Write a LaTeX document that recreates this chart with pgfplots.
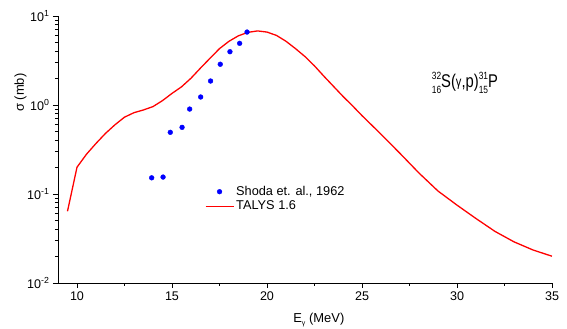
\documentclass[border=0pt]{standalone}
\usepackage{pgfplots}
\pgfplotsset{compat=1.18}
\usepackage{fontspec}
\setmainfont{Liberation Sans}
\usepackage{graphicx}
\definecolor{myblue}{RGB}{0,0,255}
\definecolor{myred}{RGB}{255,0,0}
\newcommand{\iso}[2]{\makebox[0pt][l]{\raisebox{8.3bp}{\fontsize{10.5}{11}\selectfont #1}}\raisebox{-6bp}{\fontsize{10.5}{11}\selectfont #2}}
\begin{document}
\begin{tikzpicture}
\begin{axis}[
  name=ax,
  scale only axis,
  width=494bp, height=267bp,
  xmin=9, xmax=35,
  ymode=log, ymin=0.01, ymax=10,
  axis lines=left,
  axis line style={-, line width=0.8pt},
  tick align=outside,
  major tick length=5bp, minor tick length=3bp,
  every tick/.style={black, line width=0.7pt},
  xtick={10,15,20,25,30,35},
  minor x tick num=1,
  ytick={0.01,0.1,1,10},
  yticklabels={10\textsuperscript{-2},10\textsuperscript{-1},10\textsuperscript{0},10\textsuperscript{1}},
  /pgf/number format/assume math mode=true,
  tick label style={font=\fontsize{12.6}{14}\selectfont},
  xlabel={E\raisebox{-3.5bp}{\fontsize{7}{8}\selectfont γ} (MeV)},
  ylabel={σ (mb)},
  label style={font=\fontsize{13}{14}\selectfont},
  xlabel style={at={(rel axis cs:0.528,0)}, anchor=base, yshift=-39bp},
  ylabel style={at={(rel axis cs:0,0.713)}, anchor=base, yshift=34bp},
  legend style={draw=none, fill=none, font=\fontsize{12.8}{14}\selectfont,
    at={(rel axis cs:0.295,0.315)}, anchor=west, row sep=0pt, inner sep=1pt},
  legend cell align=left,
  legend image code/.code={\draw[mark repeat=2,mark phase=2,#1] plot coordinates {(0bp,0bp) (14bp,0bp) (28bp,0bp)};},
  clip=false,
]
\addplot[only marks, mark=*, mark size=2.4bp, color=myblue] coordinates {
(13.93,0.152) (14.53,0.155) (14.91,0.493) (15.53,0.561) (15.93,0.90)
(16.51,1.23) (17.03,1.86) (17.54,2.87) (18.05,3.97) (18.56,4.93) (18.95,6.6)
};
\addlegendentry{Shoda et. al., 1962}
\addplot[color=myred, line width=1.3pt, no marks] coordinates {
(9.5,0.064) (10.0,0.20) (10.5,0.28) (11.0,0.37) (11.5,0.48) (12.0,0.60)
(12.5,0.73) (13.0,0.82) (13.5,0.88) (14.0,0.96) (14.5,1.12) (15.0,1.35)
(15.5,1.60) (16.0,2.0) (16.5,2.6) (17.0,3.35) (17.5,4.3) (18.0,5.2)
(18.5,6.0) (19.0,6.55) (19.5,6.8) (20.0,6.6) (20.5,6.05) (21.0,5.2)
(21.5,4.3) (22.0,3.5) (22.5,2.75) (23.0,2.1) (23.5,1.62) (24.0,1.25)
(24.5,0.98) (25.0,0.76) (26.0,0.47) (27.0,0.286) (28.0,0.172) (29.0,0.108)
(30.0,0.075) (31.0,0.053) (32.0,0.038) (33.0,0.029) (34.0,0.0235) (35.0,0.020)
};
\addlegendentry{TALYS 1.6}
\node[anchor=base west, inner sep=0pt, font=\fontsize{18.5}{20}\selectfont] at (axis cs:28.67,1.58)
  {\scalebox{0.8}[1]{\iso{32}{16}S(\raisebox{0.5bp}{\fontsize{14}{15}\selectfont γ},p)\iso{31}{15}P}};
\end{axis}
\pgfresetboundingbox
\path ([xshift=-58bp,yshift=-46bp]ax.south west) rectangle ([xshift=15bp,yshift=16bp]ax.north east);
\end{tikzpicture}
\end{document}
